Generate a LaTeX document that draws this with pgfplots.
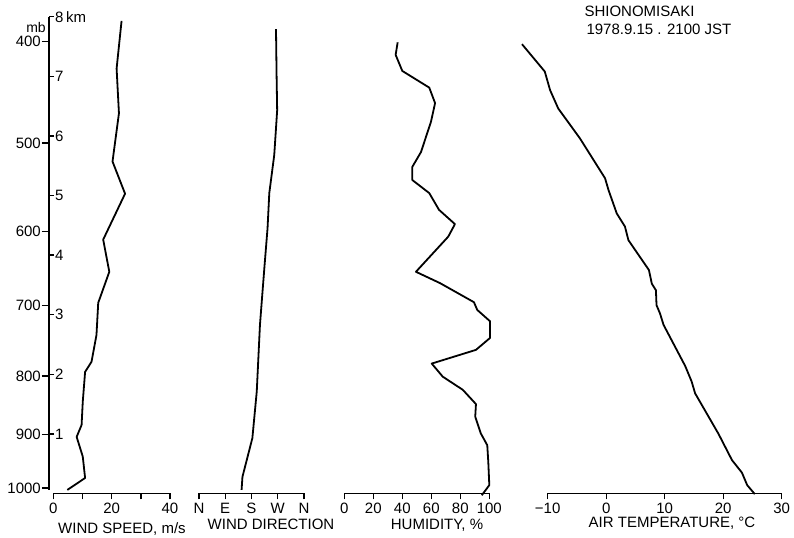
\documentclass[border=0pt]{standalone}
\usepackage{fontspec}
\setmainfont{Liberation Sans}
\usepackage{pgfplots}
\pgfplotsset{compat=1.18}
\begin{document}
\begin{tikzpicture}[x=1bp,y=1bp]
\useasboundingbox (0bp,0bp) rectangle (794bp,538bp);
\pgfplotsset{
  panel/.style={scale only axis, height=476.8bp, ymin=0, ymax=8,
    axis y line=none, axis x line*=bottom, clip=false,
    tick align=outside, major tick length=6bp, minor tick length=6bp,
    axis line style={line width=1.7bp},
    major tick style={line width=1.4bp, black},
    minor tick style={line width=1.4bp, black},
    tick label style={font=\fontsize{15bp}{17bp}\selectfont, inner sep=1bp},
    /pgf/number format/assume math mode=true,
    xticklabel style={yshift=-2bp},
    anchor=south west},
  vert/.style={scale only axis, height=473.2bp, width=10bp, ymin=0.06, ymax=8,
    xmin=0, xmax=1, axis x line=none, clip=false,
    tick align=outside, major tick length=7bp,
    axis line style={line width=1.7bp},
    major tick style={line width=1.4bp, black},
    tick label style={font=\fontsize{15bp}{17bp}\selectfont, inner sep=1bp},
    /pgf/number format/assume math mode=true,
    anchor=south west},
  curve/.style={black, line width=1.8bp, line join=round, no marks},
}
% left vertical axis: pressure (mb) on the left, height (km) on the right
\begin{axis}[vert, at={(49bp,48.1bp)}, axis y line*=left,
  ytick={0.09,0.99,1.97,3.15,4.40,5.88,7.58},
  yticklabels={1000,900,800,700,600,500,400}]
\end{axis}
\begin{axis}[vert, at={(39bp,48.1bp)}, axis y line*=right, major tick length=5bp,
  ytick={1,2,3,4,5,6,7,8},
  yticklabels={1,2,3,4,5,6,7,8\,km}]
\end{axis}
\node[font=\fontsize{14bp}{16bp}\selectfont, anchor=base] at (36bp,505bp) {mb};

% wind speed
\begin{axis}[panel, at={(53.3bp,44.5bp)}, width=116.7bp, xmin=0, xmax=40,
  xtick={0,20,40}, minor xtick={10,30}]
\addplot[curve] coordinates {
(4.8,0.06) (10.9,0.26) (10.1,0.62) (8.0,0.95) (9.7,1.15) (10.1,1.54)
(10.9,2.04) (13.1,2.21) (14.8,2.66) (15.4,3.20) (19.2,3.72) (17.1,4.26)
(24.6,5.03) (20.3,5.57) (22.5,6.38) (21.7,7.13) (23.4,7.93)};
\end{axis}

% wind direction
\begin{axis}[panel, at={(199bp,44.5bp)}, width=105bp, xmin=0, xmax=360,
  xtick={0,90,180,270,360}, xticklabels={N,E,S,W,N}]
\addplot[curve] coordinates {
(146,0.06) (149,0.28) (183,0.93) (198,1.71) (209,2.83) (224,3.78)
(235,4.45) (241,5.04) (258,5.68) (268,6.43) (266,7.02) (264,7.79)};
\end{axis}

% humidity
\begin{axis}[panel, at={(344.3bp,44.5bp)}, width=145bp, xmin=0, xmax=100,
  xtick={0,20,40,60,80,100}]
\addplot[curve] coordinates {
(94.8,-0.03) (100,0.14) (99.3,0.53) (98.6,0.81) (94.1,1.01) (90.3,1.29)
(90.8,1.50) (81.7,1.74) (67.9,1.96) (60.3,2.18) (90.8,2.41) (100.5,2.61)
(100.5,2.89) (91.7,3.08) (89.4,3.21) (66.0,3.53) (49.4,3.72) (71.7,4.31)
(76.3,4.52) (65.3,4.76) (58.6,5.04) (46.9,5.26) (46.9,5.48) (52.9,5.73)
(55.2,5.90) (59.8,6.24) (62.6,6.55) (58.6,6.81) (40.0,7.09) (35.4,7.36)
(36.8,7.57)};
\end{axis}

% air temperature
\begin{axis}[panel, at={(547.7bp,44.5bp)}, width=234bp, xmin=-10, xmax=30,
  xtick={-10,0,10,20,30}, xticklabels={−10,0,10,20,30}]
\addplot[curve] coordinates {
(25.4,-0.01) (24.1,0.14) (23.2,0.35) (21.5,0.56) (19.2,1.00) (15.2,1.68)
(14.6,1.88) (13.5,2.14) (9.8,2.83) (9.2,3.02) (8.6,3.16) (8.5,3.41)
(7.8,3.52) (7.3,3.75) (3.8,4.25) (3.2,4.48) (1.8,4.70) (0.4,5.09)
(-0.2,5.29) (-4.5,5.96) (-8.2,6.46) (-9.6,6.77) (-10.5,7.08) (-14.4,7.54)};
\end{axis}

% axis titles
\begin{scope}[every node/.style={font=\fontsize{15bp}{18bp}\selectfont, anchor=base}]
\node at (122bp,5bp) {WIND SPEED, m/s};
\node at (271bp,9bp) {WIND DIRECTION};
\node at (437bp,9bp) {HUMIDITY, \%};
\node at (672bp,11bp) {AIR TEMPERATURE, °C};
\node[anchor=base west] at (581bp,521bp) {SHIONOMISAKI};
\node[anchor=base west] at (583bp,503bp) {1978.9.15 . 2100 JST};
\end{scope}
\end{tikzpicture}
\end{document}
